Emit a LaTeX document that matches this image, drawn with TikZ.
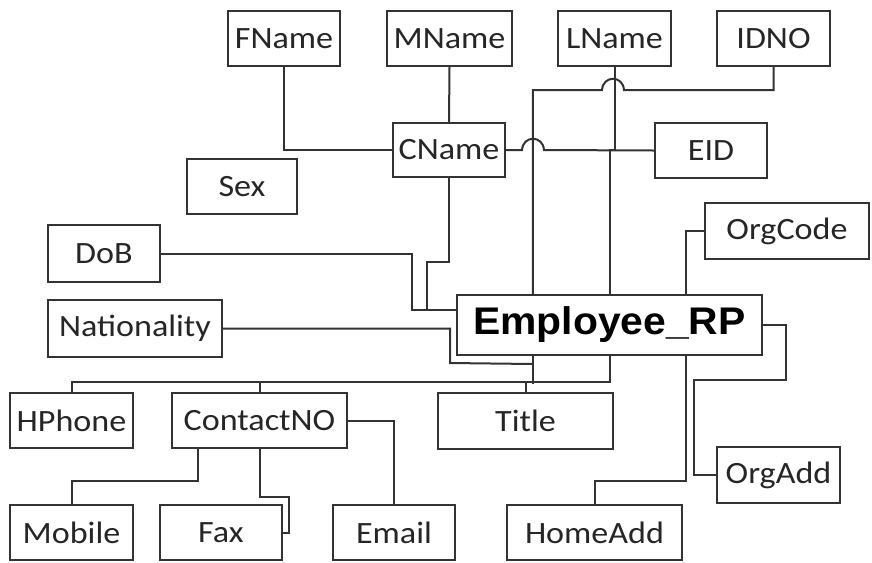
\documentclass[tikz,border=0pt]{standalone}
\usepackage{fontspec}
\usetikzlibrary{calc}
\newfontfamily\lblfont[FakeStretch=1.1]{Carlito}
\newfontfamily\entfont[FakeStretch=1.06]{Liberation Sans}
\definecolor{ink}{HTML}{262626}
\definecolor{edge}{HTML}{333333}

% \attr[style]{name}{x1}{y1}{x2}{y2}{label}: a box given by its corners
\newcommand\attr[7][box]{%
  \pgfmathsetmacro\bxw{(#5-#3)*0.75}%
  \pgfmathsetmacro\bxh{(#6-#4)*0.75}%
  \node[#1,minimum width=\bxw pt,minimum height=\bxh pt] (#2) at ({(#3+#5)/2},{(#4+#6)/2}) {#7};}

\begin{document}
\begin{tikzpicture}[x=0.75pt,y=-0.75pt,
  box/.style={draw=edge, line width=1.5pt, fill=white, inner sep=0pt, text=ink,
    font=\lblfont\fontsize{23.25pt}{26pt}\selectfont},
  entity/.style={box, font=\entfont\bfseries\fontsize{28.9pt}{32pt}\selectfont, text=black},
  link/.style={draw=edge, line width=1.5pt},
]
\useasboundingbox[fill=white] (0,0) rectangle (872,562);

% attribute boxes
\attr{fname}{228}{11}{340}{66}{FName}
\attr{mname}{387}{11}{512}{66}{MName}
\attr{lname}{558}{11}{671}{66}{LName}
\attr{idno}{717}{11}{830}{66}{IDNO}
\attr{cname}{393}{123}{505}{177}{CName}
\attr{eid}{655}{123}{767}{178}{EID}
\attr{sex}{187}{159}{297}{214}{Sex}
\attr{dob}{48}{225}{160}{282}{DoB}
\attr{nat}{48}{300}{222}{357}{Nationality}
\attr{orgcode}{705}{203}{869}{259}{OrgCode}
\attr[entity]{emp}{457}{295}{762}{355}{Employee\_RP}
\attr{hphone}{10}{393}{133}{448}{HPhone}
\attr{contact}{172}{393}{347}{448}{ContactNO}
\attr{title}{438}{393}{613}{449}{Title}
\attr{orgadd}{717}{447}{840}{503}{OrgAdd}
\attr{mobile}{10}{505}{133}{560}{Mobile}
\attr{fax}{160}{505}{282}{560}{Fax}
\attr{email}{333}{505}{455}{560}{Email}
\attr{homeadd}{507}{505}{682}{560}{HomeAdd}

% attachment points on the entity box
\coordinate (tl) at ($(emp.north west)!0.25!(emp.north east)$);
\coordinate (tr) at ($(emp.north west)!0.75!(emp.north east)$);
\coordinate (bl) at ($(emp.south west)!0.25!(emp.south east)$);
\coordinate (br) at ($(emp.south west)!0.75!(emp.south east)$);
\coordinate (ea) at ([yshift=11.25pt]emp.west);

% composite name
\draw[link] (fname.south) |- (cname.west);
\draw[link] (mname.south) -- (cname.north);
\draw[link] (cname.south) |- (427,262) |- (ea);

% upper connectors, with line jumps
\draw[link] (cname.east) -- (522,150) .. controls (523,135) and (543,135) .. (544,150) -- (eid.west);
\draw[link] (idno.south) |- (624,90) .. controls (623,75) and (603,75) .. (602,90) -| (tl);
\draw[link] (lname.south) -- (lname.south |- cname.east) -- (emp.north |- cname.east) -- (emp.north);

% left side
\draw[link] (dob.east) -| (412,310) -- (ea);
\draw[link] (nat.east) -| (450,363) -- ($(bl)+(0,8)$);

% lower bus
\draw[link] (emp.south) |- ($(hphone.north)+(0,-10)$) -- (hphone.north);
\draw[link] (bl) -- ($(bl)+(0,28)$);
\draw[link] (contact.north) -- ++(0,-10);
\draw[link] (title.north) -- ++(0,-10);

% contact numbers
\draw[link] ($(contact.south west)!0.155!(contact.south east)$) |- ($(mobile.north)+(0,-23)$) -- (mobile.north);
\draw[link] (contact.south) |- (289,497) |- (fax.east);
\draw[link] (contact.east) -| (email.north);

% right side
\draw[link] (orgcode.west) -| (tr);
\draw[link] (br) |- ($(homeadd.north)+(0,-23)$) -- (homeadd.north);
\draw[link] (emp.east) -- ++(23,0) |- (694,380) |- (orgadd.west);
\end{tikzpicture}
\end{document}
